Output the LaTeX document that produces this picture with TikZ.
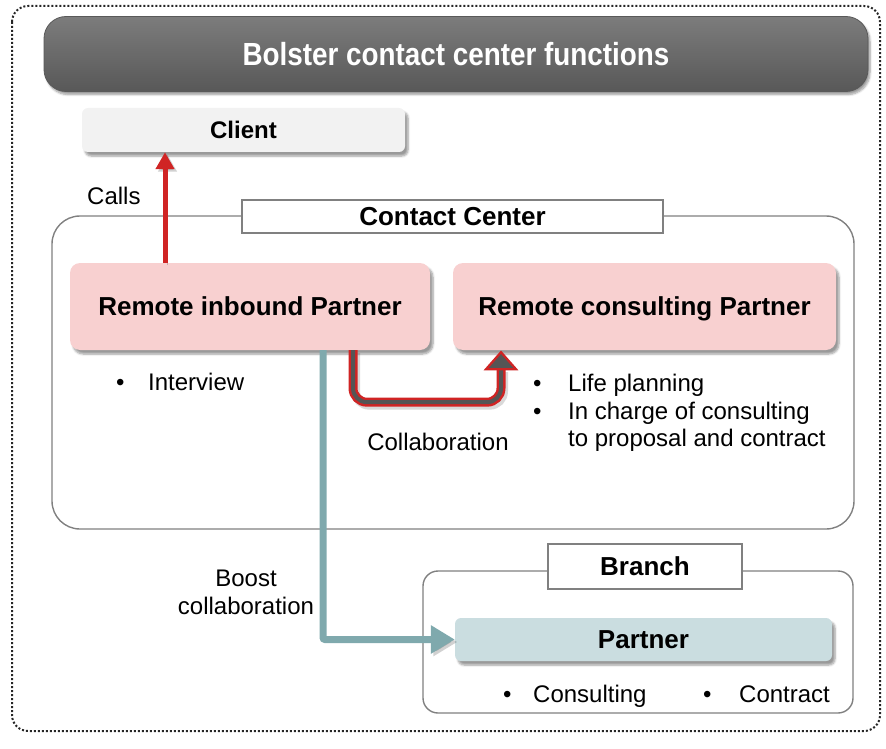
\documentclass[tikz,border=0pt]{standalone}
\usepackage{fontspec}
\setmainfont{Liberation Sans}
\newfontfamily\titlefont{Liberation Sans}[FakeStretch=0.87]
\usetikzlibrary{arrows.meta,shadows.blur,calc}

\definecolor{pinkfill}{RGB}{248,208,208}
\definecolor{clientfill}{RGB}{242,242,242}
\definecolor{partnerfill}{RGB}{202,221,224}
\definecolor{tealline}{RGB}{127,169,173}
\definecolor{redline}{RGB}{208,36,36}
\definecolor{collabgray}{RGB}{85,85,85}
\definecolor{framegray}{RGB}{128,128,128}
\definecolor{titletop}{RGB}{124,124,124}
\definecolor{titlebot}{RGB}{88,88,88}

\tikzset{
  boldtext/.style={font=\bfseries\fontsize{26}{30}\selectfont, text height=18.6pt, text depth=0pt},
  plaintext/.style={font=\fontsize{24}{27.5}\selectfont, inner sep=0pt, anchor=base west},
  softshadow/.style={blur shadow={shadow xshift=3pt, shadow yshift=-4pt, shadow blur steps=6}},
  pbox/.style={boldtext, rounded corners=10pt, fill=pinkfill, inner sep=0pt, softshadow},
  clientbox/.style={boldtext, font=\bfseries\fontsize{24}{28}\selectfont, text height=17.2pt,
    rounded corners=6pt, fill=clientfill, inner sep=0pt, softshadow},
  partnerbox/.style={boldtext, rounded corners=6pt, fill=partnerfill, inner sep=0pt, softshadow},
  groupbox/.style={draw=framegray, line width=1.4pt, inner sep=0pt},
  labelbox/.style={boldtext, draw=framegray, line width=1.4pt, fill=white, inner sep=0pt},
  arrowshadow/.style={preaction={draw=black, opacity=0.18, transform canvas={shift={(2.5pt,-2.5pt)}}}},
}

\begin{document}
\begin{tikzpicture}[x=1pt,y=-1pt]
\useasboundingbox (0,0) rectangle (886,749);

% dotted outer frame
\draw[dotted, line width=2pt, draw=black!85, rounded corners=16pt] (12,6) rectangle (880,731);

% title bar
\node[rounded corners=22pt, top color=titletop, bottom color=titlebot, draw=black!65, line width=0.8pt,
      minimum width=824pt, minimum height=75pt, inner sep=0pt, text=white,
      font=\titlefont\bfseries\fontsize{32}{36}\selectfont, text height=23pt, text depth=0pt,
      blur shadow={shadow xshift=2pt, shadow yshift=-3pt, shadow blur steps=6}]
  (title) at (456,54) {Bolster contact center functions};

% client
\node[clientbox, minimum width=323pt, minimum height=44pt] (client) at (243.5,130) {Client};
\node[plaintext] (calls) at (87,204.5) {Calls};

% contact center group
\node[groupbox, rounded corners=28pt, minimum width=802pt, minimum height=313pt] (cc) at (453,372.5) {};
\node[labelbox, minimum width=421pt, minimum height=33pt] (cclab) at (452.5,216.5) {Contact Center};

\node[pbox, minimum width=360pt, minimum height=87pt] (inb) at (250,306.5) {Remote inbound Partner};
\node[pbox, minimum width=383pt, minimum height=87pt] (cons) at (644.5,306.5) {Remote consulting Partner};

% bullet lists
\node[plaintext] (b1) at (116,390.5) {•};
\node[plaintext] (interview) at (148,390.5) {Interview};
\node[plaintext] (b2) at (533,391.5) {•};
\node[plaintext] (life) at (568,391.5) {Life planning};
\node[plaintext] (b3) at (533,419.5) {•};
\node[plaintext] (charge) at (568,419.5) {In charge of consulting};
\node[plaintext] (proposal) at (568,446.5) {to proposal and contract};

\node[plaintext, anchor=base] (collab) at (438,450.5) {Collaboration};
\node[plaintext, anchor=base] (boost1) at (246,586.5) {Boost};
\node[plaintext, anchor=base] (boost2) at (246,614.5) {collaboration};

% branch group
\node[groupbox, rounded corners=15pt, minimum width=430pt, minimum height=142pt] (br) at (638,642) {};
\node[labelbox, minimum width=194pt, minimum height=45pt] (brlab) at (645,566.5) {Branch};
\node[partnerbox, minimum width=377pt, minimum height=43pt] (partner) at (643.5,639.5) {Partner};
\node[plaintext] (b4) at (503,702.5) {•};
\node[plaintext] (consulting) at (533,702.5) {Consulting};
\node[plaintext] (b5) at (703,702.5) {•};
\node[plaintext] (contract) at (739,702.5) {Contract};

% calls: inbound partner up to the client
\coordinate (callstart) at ([xshift=-85pt]inb.north);
\draw[redline, line width=5pt, arrowshadow, -{Triangle[width=18pt,length=17pt]}]
  (callstart) -- (callstart |- client.south);

% boost collaboration: inbound partner down and across to the branch partner
\draw[tealline, line width=7pt, arrowshadow, rounded corners=2pt, -{Triangle[width=27pt,length=24pt]}]
  ([xshift=73pt]inb.south) |- (partner.west);

% collaboration: inbound partner round to the consulting partner
\coordinate (ctip) at ([xshift=-143.5pt,yshift=-2pt]cons.south);
\coordinate (cbase) at ([yshift=-17pt]ctip);
\draw[black, opacity=0.15, line width=9pt, rounded corners=14pt, transform canvas={shift={(2.5pt,-3pt)}}]
  ([xshift=103pt]inb.south) -- ++(0,52) -| (cbase);
\draw[redline, line width=2.5pt, double=collabgray, double distance=4pt, rounded corners=14pt]
  ([xshift=103pt]inb.south) -- ++(0,52) -| (cbase);
\draw[redline, fill=collabgray, line width=2.2pt, line join=miter]
  (ctip) -- ([xshift=-15pt]cbase) -- ([xshift=15pt]cbase) -- cycle;
\end{tikzpicture}
\end{document}
